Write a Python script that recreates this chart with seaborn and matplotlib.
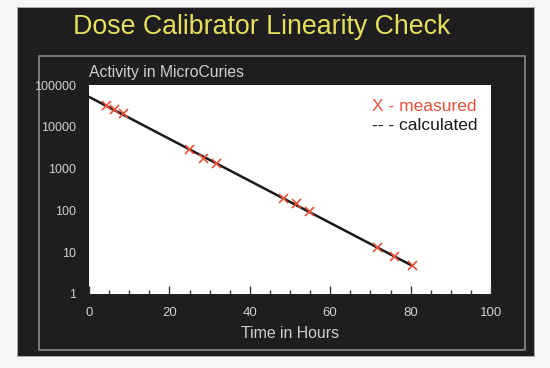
import numpy as np
import pandas as pd
import matplotlib.pyplot as plt
import matplotlib.patches as mpatches
from matplotlib.ticker import FixedLocator, MultipleLocator
import seaborn as sns

# measured activity (microcuries) vs time (hours)
hours = [4.2, 6.2, 8.5, 24.9, 28.4, 31.6, 48.3, 51.5, 54.7, 71.6, 75.9, 80.3]
activity = [33000, 27000, 21500, 2950, 1780, 1360, 199, 151, 98, 13.2, 8.1, 4.9]

# calculated decay line end points
calc_hours = [0, 80.3]
calc_activity = [52000, 4.8]

y_ticks = [1, 10, 100, 1000, 10000, 100000]
y_labels = ['1', '10', '100', '1000', '10000', '100000']

DARK = '#1f1d1f'
LIGHT_TXT = '#cfcfcf'

sns.set_style('white')
plt.rcParams['font.family'] = ['Liberation Sans', 'DejaVu Sans']

fig = plt.figure(figsize=(5.5, 3.68), dpi=100)
fig.patch.set_facecolor('#f6f6f6')

W, H = 550, 368


def px_rect(x0, y0, x1, y1, **kw):
    return mpatches.Rectangle((x0 / W, 1 - y1 / H), (x1 - x0) / W, (y1 - y0) / H,
                              transform=fig.transFigure, **kw)


fig.patches.append(px_rect(17, 7, 534, 356, facecolor=DARK, edgecolor='#b0b0b0', lw=0.6, zorder=-2))
fig.patches.append(px_rect(39, 56, 525, 350, facecolor='none', edgecolor='#8a8a8a', lw=1.2, zorder=-1))

ax = fig.add_axes([89 / W, 1 - 294 / H, (491 - 89) / W, (294 - 85) / H])
ax.set_zorder(3)
ax.set_facecolor('white')

df_meas = pd.DataFrame({'t': hours, 'a': activity})
df_calc = pd.DataFrame({'t': calc_hours, 'a': calc_activity})

ax.set_yscale('log')
sns.lineplot(data=df_calc, x='t', y='a', ax=ax, color='#1a1a1a', lw=1.8, zorder=2)
sns.scatterplot(data=df_meas, x='t', y='a', ax=ax, marker='x', color='#e8503a',
                s=42, linewidth=1.2, zorder=3)

ax.set_xlim(0, 100)
ax.set_ylim(1, 100000)
ax.xaxis.set_major_locator(MultipleLocator(20))
ax.xaxis.set_minor_locator(MultipleLocator(5))
ax.yaxis.set_major_locator(FixedLocator(y_ticks))
ax.yaxis.set_minor_locator(FixedLocator([]))
ax.set_yticklabels(y_labels)
ax.tick_params(axis='x', which='major', direction='in', length=6, width=1, color='#333333',
               labelcolor=LIGHT_TXT, labelsize=9.5, pad=9, bottom=True)
ax.tick_params(axis='x', which='minor', direction='in', length=3, width=1, color='#333333', bottom=True)
ax.tick_params(axis='y', which='both', length=0, labelcolor=LIGHT_TXT, labelsize=9, pad=9)
for s in ax.spines.values():
    s.set_visible(False)
ax.set_xlabel('')
ax.set_ylabel('')

fig.text(262 / W, 1 - 27 / H, 'Dose Calibrator Linearity Check', color='#e6df5c',
         fontsize=19.3, ha='center', va='center')
fig.text(89 / W, 1 - 73 / H, 'Activity in MicroCuries', color=LIGHT_TXT,
         fontsize=11.3, ha='left', va='center')
fig.text(290 / W, 1 - 333 / H, 'Time in Hours', color=LIGHT_TXT,
         fontsize=11.4, ha='center', va='center')

ax.text(0.705, 0.895, 'X - measured', transform=ax.transAxes, color='#e8503a',
        fontsize=12.5, ha='left', va='center')
ax.text(0.705, 0.805, '-- - calculated', transform=ax.transAxes, color='#1a1a1a',
        fontsize=12.5, ha='left', va='center')

fig.savefig('out.png', dpi=100, facecolor=fig.get_facecolor())
